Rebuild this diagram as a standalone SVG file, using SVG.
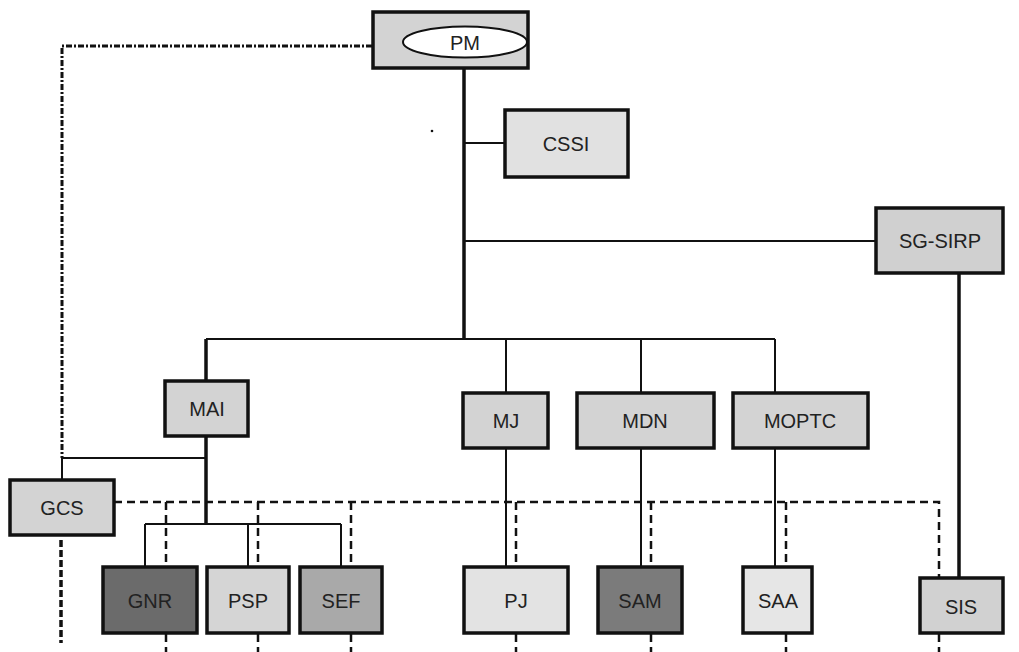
<svg xmlns="http://www.w3.org/2000/svg" width="1019" height="652" viewBox="0 0 1019 652">
<style>
.box{stroke:#111;stroke-width:3.5}
.lbl{font-family:"Liberation Sans",Arial,sans-serif;font-size:20px;fill:#222;text-anchor:middle;dominant-baseline:central}
.s2{fill:none;stroke:#111;stroke-width:2}
.s3{fill:none;stroke:#111;stroke-width:3.5}
.d{fill:none;stroke:#111;stroke-width:2.5;stroke-dasharray:8 5}
.d2{fill:none;stroke:#111;stroke-width:3.5;stroke-dasharray:7 3}
.dd{fill:none;stroke:#111;stroke-width:3;stroke-dasharray:6 2 2 2}
</style>
<rect width="1019" height="652" fill="#fff"/>
<g id="connectors">
  <path class="s3" d="M464 68 V340"/>
  <path class="s2" d="M464 143 H505"/>
  <path class="s2" d="M464 241 H876"/>
  <path class="s2" d="M206 339 H775"/>
  <path class="s3" d="M206 339 V381"/>
  <path class="s2" d="M506 339 V393"/>
  <path class="s2" d="M641 339 V397"/>
  <path class="s2" d="M775 339 V397"/>
  <path class="s3" d="M206 436 V525"/>
  <path class="s2" d="M62 458 H206"/>
  <path class="s2" d="M62 458 V480"/>
  <path class="s2" d="M145 524 H341"/>
  <path class="s2" d="M145 524 V567"/>
  <path class="s2" d="M248 524 V567"/>
  <path class="s2" d="M341 524 V567"/>
  <path class="s2" d="M506 448 V567"/>
  <path class="s2" d="M641 447 V567"/>
  <path class="s2" d="M775 447 V567"/>
  <path class="s3" d="M959 273 V578"/>
  <path class="dd" d="M372 46 H62 V458"/>
  <path class="d" d="M114 502 H939 V578"/>
  <path class="d" d="M166 502 V567 M258 502 V567 M351 502 V567 M516 502 V567 M651 502 V567 M786 502 V567"/>
  <path class="d" d="M166 634 V652 M258 634 V652 M351 634 V652 M516 634 V652 M651 634 V652 M786 634 V652 M939 634 V652"/>
  <path class="d2" d="M61 540 V643"/>
</g>
<circle cx="432" cy="131" r="1.3" fill="#111"/>
<g id="PM"><rect class="box" x="373" y="12" width="155" height="56" fill="#d3d3d3"/><ellipse cx="465" cy="42" rx="62" ry="15.5" fill="#fff" stroke="#111" stroke-width="2"/><text class="lbl" x="465" y="43">PM</text></g>
<g id="CSSI"><rect class="box" x="505" y="110" width="123" height="67" fill="#e1e1e1"/><text class="lbl" x="566" y="144">CSSI</text></g>
<g id="SG-SIRP"><rect class="box" x="876" y="208" width="127" height="65" fill="#d0d0d0"/><text class="lbl" x="940" y="241">SG-SIRP</text></g>
<g id="MAI"><rect class="box" x="165" y="381" width="83" height="55" fill="#d3d3d3"/><text class="lbl" x="207" y="409">MAI</text></g>
<g id="MJ"><rect class="box" x="463" y="393" width="85" height="55" fill="#d3d3d3"/><text class="lbl" x="506" y="421">MJ</text></g>
<g id="MDN"><rect class="box" x="577" y="393" width="137" height="55" fill="#d3d3d3"/><text class="lbl" x="645" y="421">MDN</text></g>
<g id="MOPTC"><rect class="box" x="733" y="393" width="135" height="55" fill="#d3d3d3"/><text class="lbl" x="800" y="421">MOPTC</text></g>
<g id="GCS"><rect class="box" x="10" y="480" width="104" height="55" fill="#d3d3d3"/><text class="lbl" x="62" y="508">GCS</text></g>
<g id="GNR"><rect class="box" x="103" y="567" width="94" height="66" fill="#6b6b6b"/><text class="lbl" x="150" y="601">GNR</text></g>
<g id="PSP"><rect class="box" x="207" y="567" width="82" height="66" fill="#d5d5d5"/><text class="lbl" x="248" y="601">PSP</text></g>
<g id="SEF"><rect class="box" x="300" y="567" width="82" height="66" fill="#a9a9a9"/><text class="lbl" x="341" y="601">SEF</text></g>
<g id="PJ"><rect class="box" x="464" y="567" width="104" height="66" fill="#e3e3e3"/><text class="lbl" x="516" y="601">PJ</text></g>
<g id="SAM"><rect class="box" x="598" y="567" width="84" height="66" fill="#7b7b7b"/><text class="lbl" x="640" y="601">SAM</text></g>
<g id="SAA"><rect class="box" x="743" y="567" width="69" height="66" fill="#e6e6e6"/><text class="lbl" x="778" y="601">SAA</text></g>
<g id="SIS"><rect class="box" x="920" y="578" width="83" height="55" fill="#d1d1d1"/><text class="lbl" x="961" y="607">SIS</text></g>
</svg>
